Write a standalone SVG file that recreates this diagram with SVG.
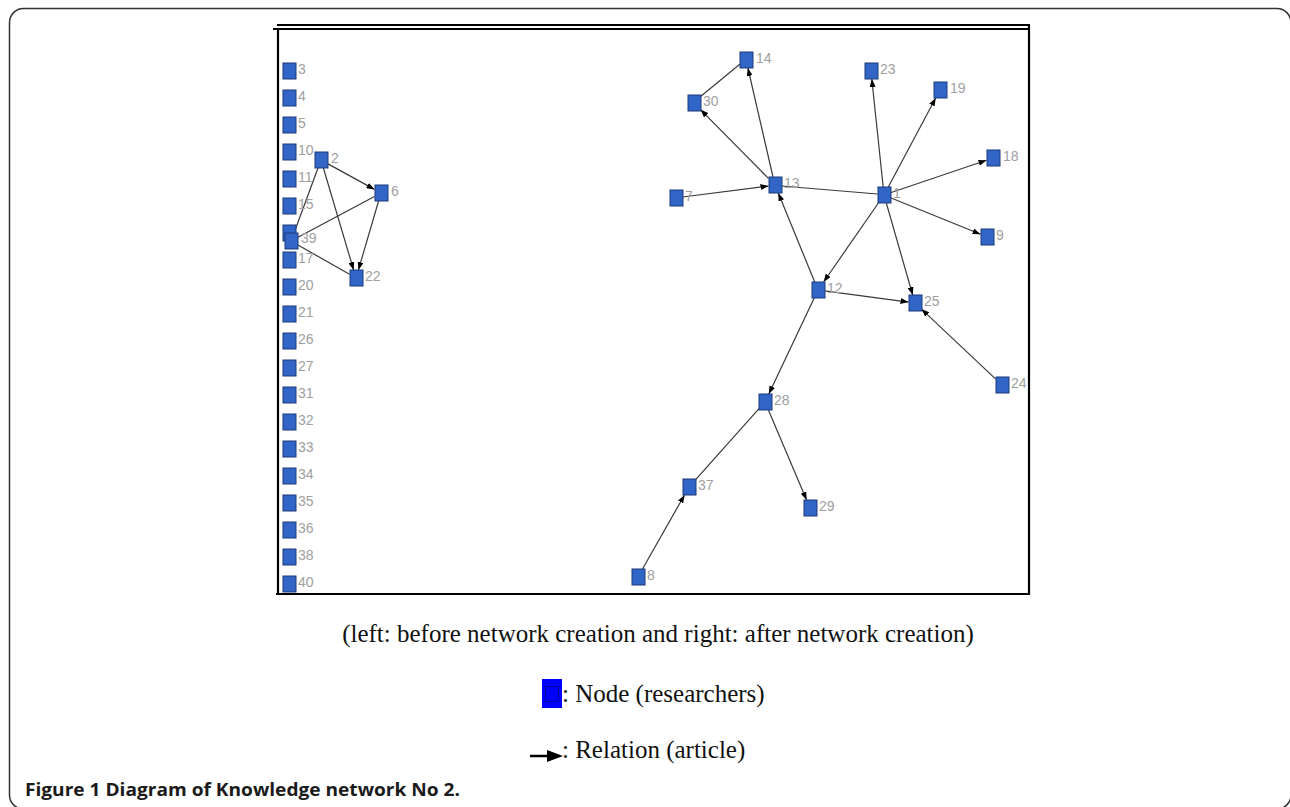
<svg xmlns="http://www.w3.org/2000/svg" width="1290" height="807" viewBox="0 0 1290 807">
<style>
.nd{fill:#3165c6;stroke:#1c3b78;stroke-width:1}
.lb{font-family:"Liberation Sans",Arial,sans-serif;font-size:14px;fill:#a0a0a0}
.ed{stroke:#3a3a3a;stroke-width:1.2;fill:none}
.ar{marker-end:url(#ah)}
.fr{stroke:#000;stroke-width:2.2;fill:none}
.cap{font-family:"Liberation Serif","Times New Roman",serif;font-size:25px;fill:#111}
</style>
<defs>
<marker id="ah" viewBox="0 0 8 6" refX="8" refY="3" markerWidth="8" markerHeight="6" markerUnits="userSpaceOnUse" orient="auto">
<path d="M0,0 L8,3 L0,6 Z" fill="#000"/>
</marker>
</defs>
<rect x="9.5" y="8.5" width="1281.5" height="800.5" rx="14" fill="#fff" stroke="#333" stroke-width="1.5"/>
<g id="frame">
<line class="fr" x1="277" y1="25" x2="1030" y2="25"/>
<line class="fr" x1="273" y1="29" x2="1030" y2="29"/>
<line class="fr" x1="278" y1="29" x2="278" y2="595"/>
<line class="fr" x1="1029" y1="25" x2="1029" y2="595"/>
<line class="fr" x1="276" y1="594" x2="1030" y2="594"/>
</g>
<g id="connectors">
<line class="ed ar" x1="327.5" y1="163.6" x2="374.5" y2="189.4"/>
<line class="ed ar" x1="323.4" y1="168" x2="353.6" y2="270"/>
<line class="ed ar" x1="378.6" y1="201" x2="358.4" y2="270"/>
<line class="ed" x1="297.5" y1="237.5" x2="374.5" y2="196.5"/>
<line class="ed" x1="297.5" y1="244.7" x2="349.5" y2="274.3"/>
<line class="ed" x1="318" y1="168" x2="294" y2="233"/>
<line class="ed ar" x1="773" y1="177" x2="747.9" y2="68"/>
<line class="ed ar" x1="768.5" y1="178.4" x2="700.5" y2="109.6"/>
<line class="ed" x1="700" y1="97" x2="740" y2="64"/>
<line class="ed ar" x1="682.5" y1="197" x2="768.5" y2="186"/>
<line class="ed" x1="781.5" y1="186" x2="877.5" y2="194"/>
<line class="ed ar" x1="814.7" y1="282" x2="778.3" y2="193"/>
<line class="ed ar" x1="883.2" y1="187" x2="871.8" y2="79"/>
<line class="ed ar" x1="888.3" y1="187" x2="935.7" y2="98"/>
<line class="ed ar" x1="890.5" y1="192.8" x2="986.5" y2="160.2"/>
<line class="ed ar" x1="890.5" y1="197.7" x2="980.5" y2="234.3"/>
<line class="ed ar" x1="886.3" y1="203" x2="912.7" y2="295"/>
<line class="ed ar" x1="878.4" y1="203" x2="823.6" y2="282"/>
<line class="ed ar" x1="824.5" y1="290.9" x2="908.5" y2="302.1"/>
<line class="ed ar" x1="995.5" y1="378.9" x2="921.5" y2="309.1"/>
<line class="ed ar" x1="814.2" y1="298" x2="768.8" y2="394"/>
<line class="ed ar" x1="768.4" y1="410" x2="806.6" y2="500"/>
<line class="ed" x1="759" y1="408.7" x2="695" y2="480.3"/>
<line class="ed ar" x1="642.5" y1="569" x2="684.5" y2="495"/>
</g>
<g id="node-3"><rect class="nd" x="283" y="63" width="13" height="16"/><text class="lb" x="298" y="74">3</text></g>
<g id="node-4"><rect class="nd" x="283" y="90" width="13" height="16"/><text class="lb" x="298" y="101">4</text></g>
<g id="node-5"><rect class="nd" x="283" y="117" width="13" height="16"/><text class="lb" x="298" y="128">5</text></g>
<g id="node-10"><rect class="nd" x="283" y="144" width="13" height="16"/><text class="lb" x="298" y="155">10</text></g>
<g id="node-11"><rect class="nd" x="283" y="171" width="13" height="16"/><text class="lb" x="298" y="182">11</text></g>
<g id="node-15"><rect class="nd" x="283" y="198" width="13" height="16"/><text class="lb" x="298" y="209">15</text></g>
<g id="node-16"><rect class="nd" x="283" y="225" width="13" height="16"/></g>
<g id="node-17"><rect class="nd" x="283" y="252" width="13" height="16"/><text class="lb" x="298" y="263">17</text></g>
<g id="node-20"><rect class="nd" x="283" y="279" width="13" height="16"/><text class="lb" x="298" y="290">20</text></g>
<g id="node-21"><rect class="nd" x="283" y="306" width="13" height="16"/><text class="lb" x="298" y="317">21</text></g>
<g id="node-26"><rect class="nd" x="283" y="333" width="13" height="16"/><text class="lb" x="298" y="344">26</text></g>
<g id="node-27"><rect class="nd" x="283" y="360" width="13" height="16"/><text class="lb" x="298" y="371">27</text></g>
<g id="node-31"><rect class="nd" x="283" y="387" width="13" height="16"/><text class="lb" x="298" y="398">31</text></g>
<g id="node-32"><rect class="nd" x="283" y="414" width="13" height="16"/><text class="lb" x="298" y="425">32</text></g>
<g id="node-33"><rect class="nd" x="283" y="441" width="13" height="16"/><text class="lb" x="298" y="452">33</text></g>
<g id="node-34"><rect class="nd" x="283" y="468" width="13" height="16"/><text class="lb" x="298" y="479">34</text></g>
<g id="node-35"><rect class="nd" x="283" y="495" width="13" height="16"/><text class="lb" x="298" y="506">35</text></g>
<g id="node-36"><rect class="nd" x="283" y="522" width="13" height="16"/><text class="lb" x="298" y="533">36</text></g>
<g id="node-38"><rect class="nd" x="283" y="549" width="13" height="16"/><text class="lb" x="298" y="560">38</text></g>
<g id="node-40"><rect class="nd" x="283" y="576" width="13" height="16"/><text class="lb" x="298" y="587">40</text></g>
<g id="node-39"><rect class="nd" x="285" y="233" width="13" height="16"/><text class="lb" x="301" y="243">39</text></g>
<g id="node-2"><rect class="nd" x="315" y="152" width="13" height="16"/><text class="lb" x="331" y="163">2</text></g>
<g id="node-6"><rect class="nd" x="375" y="185" width="13" height="16"/><text class="lb" x="391" y="196">6</text></g>
<g id="node-22"><rect class="nd" x="350" y="270" width="13" height="16"/><text class="lb" x="365" y="281">22</text></g>
<g id="node-14"><rect class="nd" x="740" y="52" width="13" height="16"/><text class="lb" x="756" y="63">14</text></g>
<g id="node-30"><rect class="nd" x="688" y="95" width="13" height="16"/><text class="lb" x="703" y="106">30</text></g>
<g id="node-13"><rect class="nd" x="769" y="177" width="13" height="16"/><text class="lb" x="784" y="188">13</text></g>
<g id="node-7"><rect class="nd" x="670" y="190" width="13" height="16"/><text class="lb" x="685" y="201">7</text></g>
<g id="node-23"><rect class="nd" x="865" y="63" width="13" height="16"/><text class="lb" x="880" y="74">23</text></g>
<g id="node-19"><rect class="nd" x="934" y="82" width="13" height="16"/><text class="lb" x="950" y="93">19</text></g>
<g id="node-18"><rect class="nd" x="987" y="150" width="13" height="16"/><text class="lb" x="1003" y="161">18</text></g>
<g id="node-1"><rect class="nd" x="878" y="187" width="13" height="16"/><text class="lb" x="893" y="198" fill="#b8a890">1</text></g>
<g id="node-9"><rect class="nd" x="981" y="229" width="13" height="16"/><text class="lb" x="996" y="240">9</text></g>
<g id="node-12"><rect class="nd" x="812" y="282" width="13" height="16"/><text class="lb" x="827" y="293">12</text></g>
<g id="node-25"><rect class="nd" x="909" y="295" width="13" height="16"/><text class="lb" x="924" y="306">25</text></g>
<g id="node-24"><rect class="nd" x="996" y="377" width="13" height="16"/><text class="lb" x="1011" y="388">24</text></g>
<g id="node-28"><rect class="nd" x="759" y="394" width="13" height="16"/><text class="lb" x="774" y="405">28</text></g>
<g id="node-37"><rect class="nd" x="683" y="479" width="13" height="16"/><text class="lb" x="698" y="490">37</text></g>
<g id="node-29"><rect class="nd" x="804" y="500" width="13" height="16"/><text class="lb" x="819" y="511">29</text></g>
<g id="node-8"><rect class="nd" x="632" y="569" width="13" height="16"/><text class="lb" x="647" y="580">8</text></g>
<g id="legend">
<text class="cap" x="658" y="642" text-anchor="middle">(left: before network creation and right: after network creation)</text>
<rect x="542" y="679" width="20" height="29" fill="#0000ff"/>
<rect x="545.5" y="686.5" width="13" height="15" fill="none" stroke="#000090" stroke-width="0.8"/>
<text class="cap" x="562" y="702">: Node (researchers)</text>
<line x1="530" y1="756" x2="549" y2="756" stroke="#000" stroke-width="2.5"/>
<path d="M547,750 L563,756 L547,762 Z" fill="#000"/>
<text class="cap" x="562" y="758">: Relation (article)</text>
</g>
<text x="25" y="796" font-family="'Open Sans','Liberation Sans',sans-serif" font-weight="bold" font-size="17" fill="#1a1a1a" textLength="435" lengthAdjust="spacingAndGlyphs">Figure 1 Diagram of Knowledge network No 2.</text>
</svg>
